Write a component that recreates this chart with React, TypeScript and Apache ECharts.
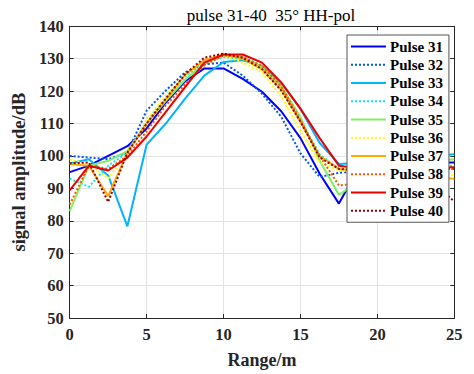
import React, { useEffect, useRef } from 'react';
import * as echarts from 'echarts';

const rangeM = [0, 1.25, 2.5, 3.75, 5, 6.25, 7.5, 8.75, 10, 11.25, 12.5, 13.75, 15, 16.25, 17.5, 18.75, 20, 21.25, 22.5, 23.75, 25];

const pulse31 = [95, 97, 100, 103, 108.5, 116.5, 123, 127, 127, 123.8, 119.8, 113.8, 105.5, 94.5, 85.3, 96, 97.5, 98, 98, 98, 98];
const pulse32 = [100, 99.5, 99, 101, 114, 120.2, 125.8, 128.3, 128.8, 124.8, 119.2, 112.1, 100.8, 93.5, 94.8, 95.3, 95.5, 95.8, 96, 96, 96];
const pulse33 = [97.7, 99, 94, 78.3, 103.5, 110, 117.7, 124.8, 129, 129.5, 127.8, 122.5, 114.5, 104, 97.5, 97.8, 98.5, 99, 99.5, 100, 100.5];
const pulse34 = [93, 90.5, 97, 101, 111, 118, 124.5, 128.8, 130.5, 130, 126.8, 120.5, 111, 100.5, 96, 96.2, 96.5, 96.8, 97, 97, 97];
const pulse35 = [83, 97, 98.5, 101.5, 110, 117, 123.5, 128.5, 131, 130.5, 127.5, 121.5, 112, 98.5, 88, 92, 95, 97, 98, 98.5, 99];
const pulse36 = [99, 97.5, 93, 101, 111, 118.7, 125, 129.5, 131, 128.8, 125.8, 118.2, 107.6, 98, 95.5, 95, 95, 94.8, 94.5, 94.2, 94];
const pulse37 = [97.5, 97, 87.6, 101, 110, 117.5, 125, 129.5, 131.3, 130, 126.8, 120.5, 110.5, 100, 96, 95.5, 95, 94.5, 94, 93.5, 93];
const pulse38 = [85, 97, 96, 100, 107.6, 115.6, 122, 128, 131, 130.5, 127.8, 121.5, 111, 100, 90.9, 91.5, 93, 94.5, 95.5, 96, 96];
const pulse39 = [89.4, 97, 95.5, 99.5, 106, 113.6, 121.2, 128.8, 131.3, 131.3, 128.8, 122.7, 114.6, 105.5, 97, 96.2, 96, 96, 96.2, 96.4, 96.5];
const pulse40 = [97.7, 98, 85.8, 101, 110, 117.7, 125.2, 130.3, 131.6, 130.3, 126.8, 120.2, 110.6, 99.5, 96, 95.5, 95, 94, 93, 91, 86];

const seriesNames = ['Pulse 31', 'Pulse 32', 'Pulse 33', 'Pulse 34', 'Pulse 35', 'Pulse 36', 'Pulse 37', 'Pulse 38', 'Pulse 39', 'Pulse 40'];
const seriesValues = [pulse31, pulse32, pulse33, pulse34, pulse35, pulse36, pulse37, pulse38, pulse39, pulse40];
const seriesColors = ['#0000ff', '#0055ff', '#00b4ff', '#00f0f0', '#80f060', '#ffff00', '#ffaa00', '#ff5500', '#ee0000', '#990000'];
const seriesDotted = [false, true, false, true, false, true, false, true, false, true];

const titleText = 'pulse 31-40  35\u00b0 HH-pol';
const xName = 'Range/m';
const yName = 'signal amplitude/dB';

const serif = '"Liberation Serif", "Times New Roman", serif';

export default function App() {
  const ref = useRef<HTMLDivElement>(null);
  useEffect(() => {
    const chart = echarts.init(ref.current as HTMLDivElement, null, { renderer: 'svg' });
    const axisColor = '#262626';
    const gridColor = '#e3e3e3';
    chart.setOption({
      animation: false,
      backgroundColor: '#ffffff',
      title: {
        text: titleText,
        left: 266,
        top: 2,
        textAlign: 'center',
        textStyle: { fontFamily: serif, fontWeight: 'normal', fontSize: 17, color: '#000' },
      },
      grid: { left: 69.7, right: 19.7, top: 26.3, bottom: 50, containLabel: false },
      legend: {
        orient: 'vertical',
        left: 347,
        top: 35,
        padding: [4, 6, 4, 3],
        itemWidth: 35,
        itemHeight: 12,
        itemGap: 3.25,
        itemStyle: { opacity: 0 },
        backgroundColor: '#ffffff',
        borderColor: '#555',
        borderWidth: 1,
        borderRadius: 0,
        textStyle: { fontFamily: serif, fontWeight: 'bold', fontSize: 15, color: '#000', lineHeight: 14, padding: [0, 0, 0, -1] },
        data: seriesNames,
      },
      xAxis: [
        {
          type: 'value',
          min: 0,
          max: 25,
          interval: 5,
          name: xName,
          nameLocation: 'middle',
          nameGap: 33,
          nameTextStyle: { fontFamily: serif, fontWeight: 'bold', fontSize: 18, color: '#262626' },
          axisLine: { show: true, onZero: false, lineStyle: { color: axisColor, width: 1 } },
          axisTick: { show: true, inside: true, length: 4, lineStyle: { color: axisColor } },
          axisLabel: { fontFamily: serif, fontWeight: 'bold', fontSize: 16.5, color: '#262626', margin: 8 },
          splitLine: { show: true, lineStyle: { color: gridColor, width: 1 } },
        },
        {
          type: 'value',
          position: 'top',
          min: 0,
          max: 25,
          interval: 5,
          axisLine: { show: true, onZero: false, lineStyle: { color: axisColor, width: 1 } },
          axisTick: { show: true, inside: true, length: 4, lineStyle: { color: axisColor } },
          axisLabel: { show: false },
          splitLine: { show: false },
        },
      ],
      yAxis: [
        {
          type: 'value',
          min: 50,
          max: 140,
          interval: 10,
          name: yName,
          nameLocation: 'middle',
          nameGap: 38,
          nameTextStyle: { fontFamily: serif, fontWeight: 'bold', fontSize: 18.5, color: '#262626' },
          axisLine: { show: true, onZero: false, lineStyle: { color: axisColor, width: 1 } },
          axisTick: { show: true, inside: true, length: 4, lineStyle: { color: axisColor } },
          axisLabel: { fontFamily: serif, fontWeight: 'bold', fontSize: 16.5, color: '#262626', margin: 6 },
          splitLine: { show: true, lineStyle: { color: gridColor, width: 1 } },
        },
        {
          type: 'value',
          position: 'right',
          min: 50,
          max: 140,
          interval: 10,
          axisLine: { show: true, onZero: false, lineStyle: { color: axisColor, width: 1 } },
          axisTick: { show: true, inside: true, length: 4, lineStyle: { color: axisColor } },
          axisLabel: { show: false },
          splitLine: { show: false },
        },
      ],
      series: seriesNames.map((name, k) => ({
        name,
        type: 'line',
        xAxisIndex: 0,
        yAxisIndex: 0,
        symbol: 'none',
        clip: true,
        color: seriesColors[k],
        lineStyle: { color: seriesColors[k], width: 2, type: seriesDotted[k] ? [2, 2] : 'solid' },
        data: rangeM.map((x, i) => [x, seriesValues[k][i]]),
      })),
    });
    return () => chart.dispose();
  }, []);
  return <div ref={ref} style={{ position: 'fixed', left: 0, top: 0, width: 474, height: 374, background: '#fff' }} />;
}
